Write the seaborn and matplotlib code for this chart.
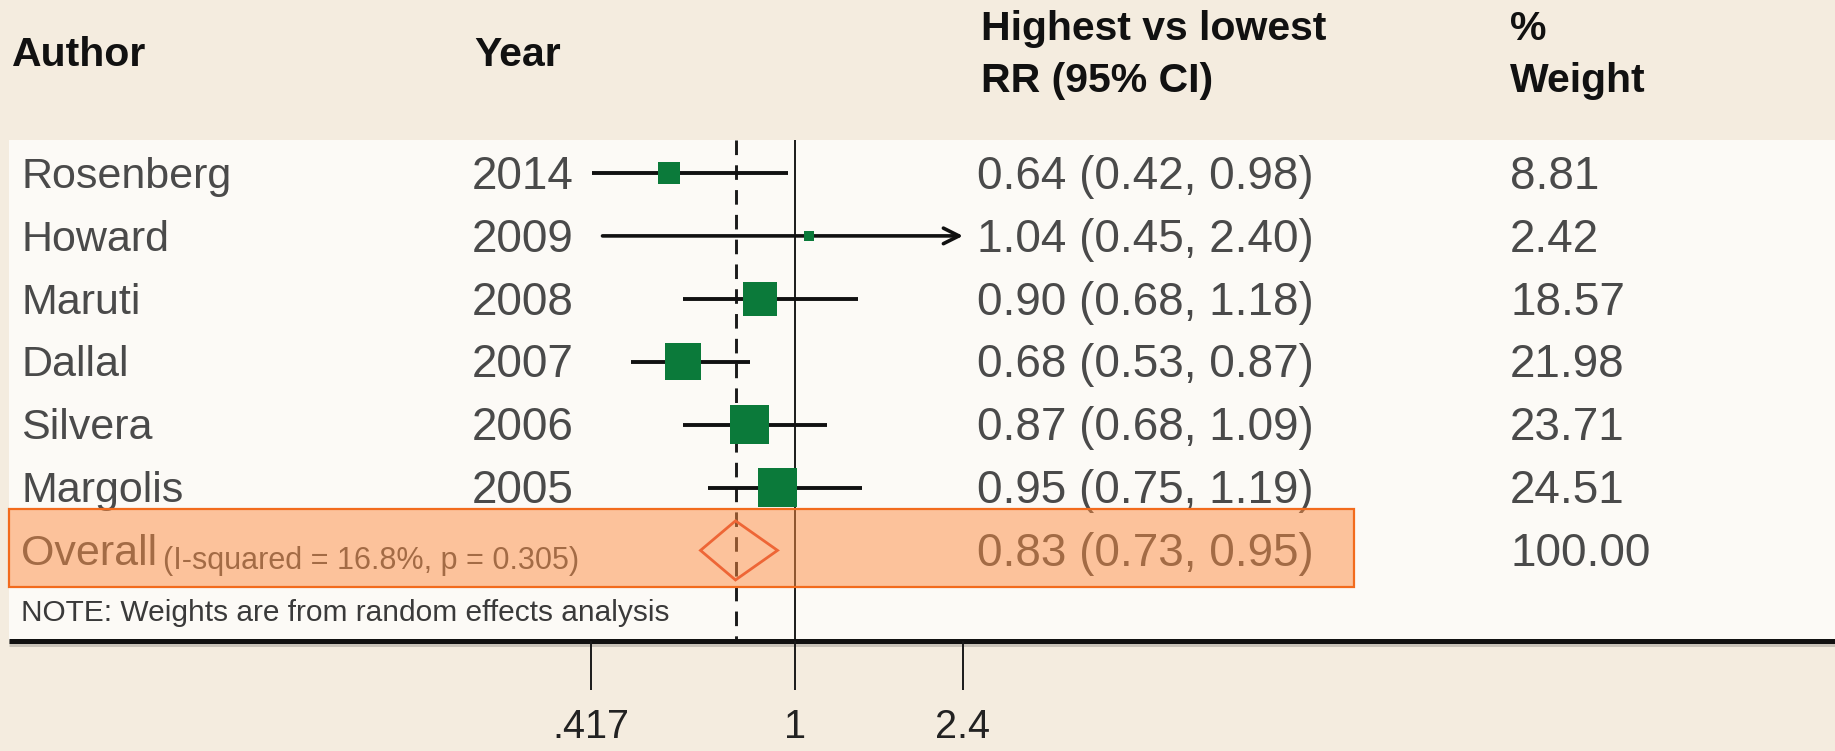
import numpy as np
import pandas as pd
import matplotlib
matplotlib.use("Agg")
import matplotlib.pyplot as plt
import seaborn as sns
from matplotlib.patches import Rectangle, Polygon
from matplotlib.transforms import blended_transform_factory as blend

# ---------------- data ----------------
authors = ["Rosenberg", "Howard", "Maruti", "Dallal", "Silvera", "Margolis"]
years = ["2014", "2009", "2008", "2007", "2006", "2005"]
rr = [0.64, 1.04, 0.90, 0.68, 0.87, 0.95]
ci_low = [0.42, 0.45, 0.68, 0.53, 0.68, 0.75]
ci_high = [0.98, 2.40, 1.18, 0.87, 1.09, 1.19]
weights = [8.81, 2.42, 18.57, 21.98, 23.71, 24.51]

overall_label = "Overall"
overall_stats = "(I-squared = 16.8%, p = 0.305)"
overall_rr = 0.83
overall_low = 0.73
overall_high = 0.95
overall_weight = 100.00

note_text = "NOTE: Weights are from random effects analysis"
x_ticks = [0.417, 1.0, 2.4]
x_tick_labels = [".417", "1", "2.4"]
header_author = "Author"
header_year = "Year"
header_rr = "Highest vs lowest\nRR (95% CI)"
header_weight = "%\nWeight"

# ---------------- style / layout ----------------
W, H = 1835, 751
BG = "#F4ECDF"
PANEL = "#FCFAF6"
GREEN = "#0B7A3A"
TXT = "#4A4A4A"
FONT = ["Liberation Sans", "DejaVu Sans"]

sns.set_style("white")
plt.rcParams["font.family"] = FONT

ROW0_PX, ROW_PX = 173.0, 62.9          # pixel y of first row and row pitch
ONE_PX, PX_PER_UNIT = 795.0, 350.0     # pixel x of RR=1 and scale
BREAK, COMPRESS = 1.2, 0.2333          # axis compressed above BREAK
TEXT_DY = 0.06                         # small downward nudge of row text


def fwd(v):
    v = np.asarray(v, dtype=float)
    return np.where(v <= BREAK, v, BREAK + (v - BREAK) * COMPRESS)


def inv(t):
    t = np.asarray(t, dtype=float)
    return np.where(t <= BREAK, t, BREAK + (t - BREAK) / COMPRESS)


def py(px):
    return (px - ROW0_PX) / ROW_PX


def fx(px):
    return px / W


df = pd.DataFrame({"author": authors, "year": years, "rr": rr,
                   "lo": ci_low, "hi": ci_high, "weight": weights})
df["row"] = np.arange(len(df))
overall_row = len(df)
note_row = len(df) + 1

fig = plt.figure(figsize=(W / 100, H / 100), dpi=100, facecolor=BG)
ax = fig.add_axes([0, 0, 1, 1])
ax.set_xscale("function", functions=(fwd, inv))
t_left = 1 - ONE_PX / PX_PER_UNIT
t_right = 1 + (W - ONE_PX) / PX_PER_UNIT
tr = blend(ax.transAxes, ax.transData)

# panel
ax.add_patch(Rectangle((fx(9), py(140)), 1 - fx(9), py(641) - py(140),
                       transform=tr, fc=PANEL, ec="none", zorder=0))

# headers
hdr = dict(fontsize=29.5, fontweight="bold", color="#111111", va="center",
           ha="left", transform=tr, linespacing=1.45)
ax.text(fx(12), py(55), header_author, **hdr)
ax.text(fx(474), py(55), header_year, **hdr)
ax.text(fx(981), py(55), header_rr, **hdr)
ax.text(fx(1510), py(55), header_weight, **hdr)

# reference lines
ax.vlines(1.0, py(140), py(641), color="#1A1A1A", lw=1.4, zorder=2)
ax.vlines(overall_rr, py(140), py(641), color="#1A1A1A", lw=2.1,
          linestyles=(0, (5, 3.5)), zorder=2)

# confidence intervals
axis_max = max(x_ticks)
for _, r in df.iterrows():
    if r["hi"] >= axis_max:
        ax.annotate("", xy=(axis_max, r["row"]), xytext=(r["lo"], r["row"]),
                    arrowprops=dict(arrowstyle="->", lw=2.6, color="#111111",
                                    mutation_scale=28, shrinkA=0, shrinkB=0),
                    zorder=3)
    else:
        ax.hlines(r["row"], r["lo"], r["hi"], color="#111111", lw=2.8, zorder=3)

# study squares (area grows with weight)
sns.scatterplot(data=df, x="rr", y="row", size="weight",
                sizes=(60, 790), size_norm=(2.42, 24.51),
                marker="s", color=GREEN, linewidth=0, legend=False,
                ax=ax, zorder=4)
ax.set_xlim(float(inv(t_left)), float(inv(t_right)))
ax.set_ylim(py(H), py(0))
ax.set_axis_off()

# overall diamond
h = 0.47
ax.add_patch(Polygon([(overall_low, overall_row), (overall_rr, overall_row - h),
                      (overall_high, overall_row), (overall_rr, overall_row + h)],
                     closed=True, fill=False, ec="#E0402A", lw=2.0, zorder=4))

# row texts
body = dict(color=TXT, va="center", ha="left", transform=tr)
for _, r in df.iterrows():
    y = r["row"] + TEXT_DY
    ax.text(fx(21), y, r["author"], fontsize=31, **body)
    ax.text(fx(472), y, r["year"], fontsize=33, **body)
    ax.text(fx(977), y,
            f"{r['rr']:.2f} ({r['lo']:.2f}, {r['hi']:.2f})", fontsize=33, **body)
    ax.text(fx(1510), y, f"{r['weight']:.2f}", fontsize=33, **body)

t1 = ax.text(fx(21), overall_row + TEXT_DY, overall_label, fontsize=31, **body)
ax.annotate(overall_stats, xy=(1, 0), xycoords=t1, xytext=(4, -1.2),
            textcoords="offset points", fontsize=22, color=TXT,
            va="bottom", ha="left")
ax.text(fx(977), overall_row + TEXT_DY,
        f"{overall_rr:.2f} ({overall_low:.2f}, {overall_high:.2f})",
        fontsize=33, **body)
ax.text(fx(1510), overall_row + TEXT_DY, f"{overall_weight:.2f}",
        fontsize=33, **body)
ax.text(fx(21), note_row, note_text, fontsize=21.5, color="#3A3A3A",
        va="center", ha="left", transform=tr)

# overall highlight box (semi-transparent overlay)
ax.add_patch(Rectangle((fx(9), py(509)), fx(1354) - fx(9), py(587) - py(509),
                       transform=tr, fc=(0.99, 0.55, 0.26, 0.5),
                       ec="#F26B1D", lw=1.6, zorder=6))

# bottom axis line, ticks, labels
ax.plot([fx(9), 1], [py(643), py(643)], transform=tr, color="#C8C2B8",
        lw=5.0, solid_capstyle="butt", zorder=6)
ax.plot([fx(9), 1], [py(641), py(641)], transform=tr, color="#111111",
        lw=3.6, solid_capstyle="butt", zorder=7)
ax.vlines(x_ticks, py(641), py(690), color="#1A1A1A", lw=1.4, zorder=7)
for v, lab in zip(x_ticks, x_tick_labels):
    ax.text(v, py(727), lab, fontsize=28.5, color="#222222",
            ha="center", va="center")

fig.savefig("out.png", dpi=100, facecolor=BG)
